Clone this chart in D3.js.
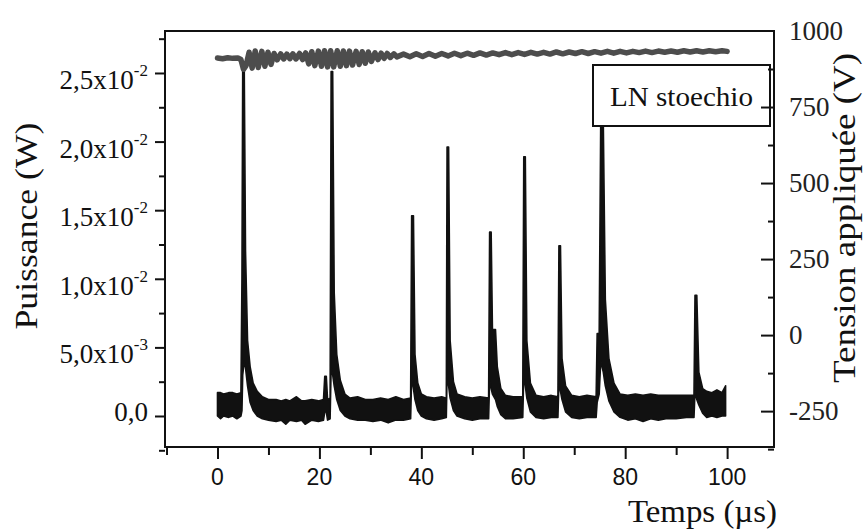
<!DOCTYPE html>
<html><head><meta charset="utf-8">
<script src="https://cdn.jsdelivr.net/npm/d3@7"></script>
<style>
body{margin:0;background:#fff;}
svg{display:block;}
</style></head>
<body><svg id="chart" width="865" height="529"></svg>
<script>
// ---- data ----
const powerTime = [0,0.6,1.2,2.2,3.0,3.8,4.6,4.8,4.95,5.25,5.5,5.9,6.4,7.0,7.8,8.8,10.0,11.5,12.5,13.4,14.2,15.5,16.5,17.2,18.5,19.8,20.8,21.05,21.35,21.6,22.1,22.3,22.6,22.9,23.4,24.1,25.0,26.0,27.5,29.0,30.5,32.0,33.5,35.0,36.5,37.9,38.1,38.45,38.75,39.3,40.0,41.0,42.5,44.0,44.9,45.05,45.35,45.65,46.3,47.0,48.5,50.0,51.5,53.2,53.4,53.7,53.95,54.55,54.9,55.6,56.5,58.0,59.9,60.1,60.4,60.7,61.4,62.5,64.0,65.5,66.8,67.0,67.3,67.6,68.3,69.5,71.0,72.5,74.3,74.5,74.9,75.2,75.7,76.1,76.8,77.8,79.0,80.5,82.0,83.5,85.0,86.5,88.0,90.0,92.0,93.5,93.7,94.05,94.45,95.2,96.0,97.0,98.0,99.0,99.7];
const powerHigh = [0.0017,0.0017,0.0016,0.0017,0.0017,0.0016,0.0017,0.0100,0.0254,0.0254,0.0120,0.0055,0.0036,0.0024,0.0018,0.0014,0.0012,0.0012,0.0011,0.0012,0.0011,0.0014,0.0011,0.0011,0.0012,0.0011,0.0012,0.0029,0.0029,0.0012,0.0013,0.0251,0.0251,0.0090,0.0045,0.0026,0.0016,0.0013,0.0014,0.0012,0.0012,0.0013,0.0012,0.0014,0.0012,0.0013,0.0146,0.0146,0.0045,0.0024,0.0016,0.0014,0.0013,0.0014,0.0013,0.0196,0.0196,0.0055,0.0025,0.0016,0.0014,0.0013,0.0014,0.0013,0.0134,0.0134,0.0063,0.0063,0.0036,0.0020,0.0015,0.0014,0.0014,0.0189,0.0189,0.0055,0.0024,0.0015,0.0014,0.0015,0.0014,0.0124,0.0124,0.0042,0.0022,0.0015,0.0014,0.0015,0.0014,0.0060,0.0060,0.0215,0.0215,0.0085,0.0042,0.0024,0.0016,0.0015,0.0016,0.0015,0.0016,0.0015,0.0015,0.0015,0.0015,0.0015,0.0088,0.0088,0.0032,0.0020,0.0018,0.0017,0.0019,0.0017,0.0022];
const powerLow = [0.0000,-0.0002,0.0000,-0.0001,0.0000,-0.0002,0.0000,0.0004,0.0030,0.0040,0.0035,0.0022,0.0010,0.0004,0.0000,-0.0002,-0.0003,-0.0004,-0.0003,-0.0006,-0.0003,-0.0004,-0.0003,-0.0006,-0.0003,-0.0004,-0.0003,0.0003,0.0003,-0.0003,-0.0002,0.0035,0.0030,0.0022,0.0012,0.0004,0.0000,-0.0002,-0.0003,-0.0003,-0.0004,-0.0003,-0.0005,-0.0003,-0.0003,-0.0002,0.0028,0.0020,0.0012,0.0004,0.0000,-0.0002,-0.0003,-0.0002,-0.0001,0.0030,0.0022,0.0013,0.0004,0.0000,-0.0002,-0.0003,-0.0002,-0.0002,0.0026,0.0020,0.0016,0.0012,0.0007,0.0001,-0.0002,-0.0002,-0.0001,0.0030,0.0022,0.0013,0.0003,-0.0001,-0.0002,-0.0001,-0.0001,0.0025,0.0018,0.0012,0.0003,-0.0001,-0.0002,-0.0001,-0.0001,0.0010,0.0016,0.0040,0.0032,0.0022,0.0011,0.0003,-0.0001,-0.0003,-0.0002,-0.0004,-0.0002,-0.0003,-0.0002,-0.0002,-0.0001,-0.0001,0.0018,0.0012,0.0008,0.0002,-0.0001,0.0000,-0.0001,0.0000,0.0000];

const voltTime = [0,1,2,3,4,4.6,5.1,5.6,6.2,6.8,7.4,8.0,8.7,9.3,9.9,10.5,11.1,11.7,12.4,13.0,13.6,14.2,14.8,15.4,16.1,16.7,17.3,17.9,18.5,19.1,19.8,20.4,21.0,21.6,22.2,22.8,23.5,24.1,24.7,25.3,25.9,26.5,27.2,27.8,28.4,29.0,29.6,30.2,30.9,31.5,32.1,32.7,33.3,33.9,34.6,35.2,36.5,37.75,39,40.25,41.5,42.75,44,45.25,46.5,47.75,49,50.25,51.5,52.75,54,55.25,56.5,57.75,59,60.25,61.5,62.75,64,65.25,66.5,67.75,69,70.25,71.5,72.75,74,75.25,76.5,77.75,79,80.25,81.5,82.75,84,85.25,86.5,87.75,89,90.25,91.5,92.75,94,95.25,96.5,97.75,99,100];
const voltValue = [911,909,912,910,911,906,874,886,930,878,934,880,933,884,930,890,926,905,925,908,924,909,925,908,926,906,928,892,932,886,934,884,935,882,935,882,935,884,934,886,934,888,933,890,932,894,931,900,928,906,927,910,926,913,925,915,924,915,925,916,926,917,926,918,927,919,927,920,928,921,928,922,929,922,929,923,930,924,930,924,931,925,931,926,932,926,932,927,933,927,933,928,933,929,934,929,934,930,934,930,935,931,935,931,935,932,935,933];

const xTickValues = [0,20,40,60,80,100];
const xMinorValues = [-10,10,30,50,70,90];
const leftTickValues = [0,0.005,0.01,0.015,0.02,0.025];
const leftTickMantissa = ["0,0","5,0x10","1,0x10","1,5x10","2,0x10","2,5x10"];
const leftTickExponent = ["","-3","-2","-2","-2","-2"];
const leftMinorValues = [-0.0025,0.0025,0.0075,0.0125,0.0175,0.0225,0.0275];
const rightTickValues = [-250,0,250,500,750,1000];
const rightMinorValues = [-375,-125,125,375,625,875];
const legendLabel = "LN stoechio";
const xTitle = "Temps (µs)";
const yLeftTitle = "Puissance (W)";
const yRightTitle = "Tension appliquée (V)";

// ---- layout ----
const L = 165, R = 774, T = 31, B = 447;
const svg = d3.select("#chart");
const serif = "'Liberation Serif','Times New Roman',serif";
const sans = "'Liberation Sans',Arial,sans-serif";

const x = d3.scaleLinear().domain([-10.3, 109.2]).range([L, R]);
const yL = d3.scaleLinear().domain([-0.00226, 0.02806]).range([B, T]);
const yR = d3.scaleLinear().domain([-368, 1000]).range([B, T]);

// data marks
const power = powerTime.map((t,i)=>({t, hi:powerHigh[i], lo:powerLow[i]}));
svg.append("path").datum(power)
  .attr("d", d3.area().x(d=>x(d.t)).y0(d=>yL(d.lo)).y1(d=>yL(d.hi)))
  .attr("fill","#111").attr("stroke","#111").attr("stroke-width",1.6)
  .attr("stroke-linejoin","round");

const volt = voltTime.map((t,i)=>({t, v:voltValue[i]}));
svg.append("path").datum(volt)
  .attr("d", d3.line().x(d=>x(d.t)).y(d=>yR(d.v)))
  .attr("fill","none").attr("stroke","#4d4d4d").attr("stroke-width",5.5)
  .attr("stroke-linejoin","round").attr("stroke-linecap","round");

// legend
svg.append("rect").attr("x",593).attr("y",65).attr("width",177).attr("height",61)
  .attr("fill","#fff").attr("stroke","#111").attr("stroke-width",2);
svg.append("text").attr("x",610).attr("y",106).attr("font-family",serif)
  .attr("font-size",28).attr("fill","#111").attr("textLength",143)
  .attr("lengthAdjust","spacingAndGlyphs").text(legendLabel);

// axes
function styleAxis(g){
  g.select(".domain").remove();
  g.selectAll("line").attr("stroke","#111").attr("stroke-width",2);
  g.selectAll("text").remove();
}
svg.append("g").attr("transform",`translate(${L},0)`)
  .call(d3.axisLeft(yL).tickValues(leftTickValues).tickSize(10)).call(styleAxis);
svg.append("g").attr("transform",`translate(${L},0)`)
  .call(d3.axisLeft(yL).tickValues(leftMinorValues).tickSize(6)).call(styleAxis);
svg.append("g").attr("transform",`translate(${R},0)`)
  .call(d3.axisLeft(yR).tickValues(rightTickValues.filter(v=>v<1000)).tickSize(13)).call(styleAxis);
svg.append("g").attr("transform",`translate(${R},0)`)
  .call(d3.axisLeft(yR).tickValues(rightMinorValues).tickSize(6)).call(styleAxis);
svg.append("g").attr("transform",`translate(0,${B})`)
  .call(d3.axisBottom(x).tickValues(xTickValues).tickSize(12)).call(styleAxis);
svg.append("g").attr("transform",`translate(0,${B})`)
  .call(d3.axisBottom(x).tickValues(xMinorValues).tickSize(8)).call(styleAxis);

// frame
svg.append("rect").attr("x",L).attr("y",T).attr("width",R-L).attr("height",B-T)
  .attr("fill","none").attr("stroke","#111").attr("stroke-width",2);

// tick labels
leftTickValues.forEach((v,i)=>{
  const hasExp = leftTickExponent[i] !== "";
  const t = svg.append("text").attr("x",148).attr("y", yL(v) + (hasExp?16:5))
    .attr("text-anchor","end").attr("font-family",serif).attr("font-size",27).attr("fill","#111");
  t.append("tspan").text(leftTickMantissa[i]);
  if(hasExp) t.append("tspan").attr("dy",-13).attr("font-size",17).text(leftTickExponent[i]);
});
rightTickValues.forEach(v=>{
  svg.append("text").attr("x",789).attr("y", yR(v)+9)
    .attr("font-family",serif).attr("font-size",27).attr("fill","#222").text(v);
});
xTickValues.forEach(v=>{
  svg.append("text").attr("x",x(v)).attr("y",485).attr("text-anchor","middle")
    .attr("font-family",sans).attr("font-size",23).attr("fill","#111").text(v);
});

// titles
svg.append("text").attr("x",628).attr("y",522).attr("font-family",serif)
  .attr("font-size",31).attr("fill","#111").attr("textLength",149)
  .attr("lengthAdjust","spacingAndGlyphs").text(xTitle);
svg.append("text").attr("transform","translate(37,226) rotate(-90)")
  .attr("text-anchor","middle").attr("font-family",serif).attr("font-size",32)
  .attr("fill","#111").attr("textLength",207).attr("lengthAdjust","spacingAndGlyphs").text(yLeftTitle);
svg.append("text").attr("transform","translate(855,218) rotate(-90)")
  .attr("text-anchor","middle").attr("font-family",serif).attr("font-size",32)
  .attr("fill","#111").attr("textLength",330).attr("lengthAdjust","spacingAndGlyphs").text(yRightTitle);
</script>
</body></html>
